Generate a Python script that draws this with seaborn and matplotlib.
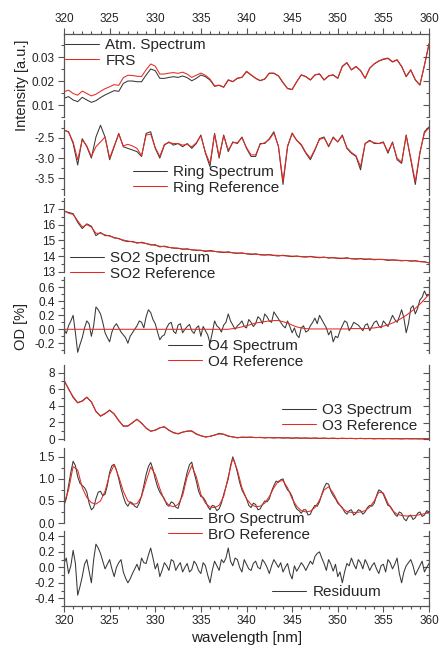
import numpy as np
import matplotlib
matplotlib.use("Agg")
import matplotlib.pyplot as plt
from matplotlib.ticker import MultipleLocator, FormatStrFormatter
import seaborn as sns

wavelength = np.linspace(320, 360, 81)        # 0.5 nm steps
wavelength_fine = np.linspace(320, 360, 161)  # 0.25 nm steps for the noisy traces

atm_spectrum = [
    0.0128, 0.0135, 0.0121, 0.0114, 0.0132, 0.0121, 0.0111, 0.0118, 0.0131, 0.0142,
    0.0151, 0.0160, 0.0157, 0.0190, 0.0200, 0.0200, 0.0197, 0.0197, 0.0225, 0.0250,
    0.0243, 0.0211, 0.0211, 0.0215, 0.0218, 0.0215, 0.0221, 0.0214, 0.0201, 0.0211,
    0.0225, 0.0218, 0.0204, 0.0178, 0.0182, 0.0174, 0.0204, 0.0197, 0.0211, 0.0215,
    0.0239, 0.0225, 0.0211, 0.0201, 0.0208, 0.0232, 0.0232, 0.0221, 0.0193, 0.0169,
    0.0165, 0.0197, 0.0225, 0.0218, 0.0204, 0.0225, 0.0229, 0.0204, 0.0221, 0.0225,
    0.0211, 0.0260, 0.0276, 0.0246, 0.0260, 0.0243, 0.0211, 0.0253, 0.0271, 0.0283,
    0.0290, 0.0294, 0.0279, 0.0288, 0.0260, 0.0218, 0.0246, 0.0204, 0.0183, 0.0265,
    0.0354]
frs = [
    0.0155, 0.0162, 0.0148, 0.0141, 0.0158, 0.0148, 0.0138, 0.0145, 0.0157, 0.0168,
    0.0176, 0.0185, 0.0182, 0.0214, 0.0224, 0.0223, 0.0220, 0.0219, 0.0247, 0.0271,
    0.0262, 0.0229, 0.0229, 0.0233, 0.0235, 0.0232, 0.0237, 0.0229, 0.0215, 0.0224,
    0.0233, 0.0224, 0.0208, 0.0180, 0.0183, 0.0175, 0.0205, 0.0198, 0.0212, 0.0216,
    0.0241, 0.0226, 0.0212, 0.0202, 0.0209, 0.0233, 0.0233, 0.0222, 0.0194, 0.0168,
    0.0164, 0.0197, 0.0226, 0.0219, 0.0205, 0.0226, 0.0230, 0.0205, 0.0222, 0.0226,
    0.0212, 0.0262, 0.0277, 0.0247, 0.0261, 0.0244, 0.0212, 0.0254, 0.0272, 0.0284,
    0.0292, 0.0296, 0.0281, 0.0289, 0.0262, 0.0220, 0.0247, 0.0206, 0.0184, 0.0266,
    0.0356]

ring_spectrum = [
    -2.31, -2.35, -2.64, -3.17, -2.52, -2.72, -3.00, -2.48, -2.19, -2.48,
    -3.04, -2.72, -2.39, -2.72, -2.76, -2.80, -2.84, -2.96, -2.39, -2.35,
    -2.76, -3.00, -2.68, -2.60, -2.68, -2.64, -2.72, -2.64, -2.76, -2.64,
    -2.43, -2.88, -3.21, -2.39, -3.00, -2.43, -2.84, -2.60, -2.64, -2.48,
    -2.76, -2.96, -2.96, -2.64, -2.64, -2.52, -2.35, -2.72, -3.65, -2.72,
    -2.38, -2.56, -2.68, -2.88, -3.04, -2.80, -2.52, -2.48, -2.72, -2.48,
    -2.60, -2.43, -2.76, -2.88, -2.96, -3.29, -2.64, -2.56, -2.64, -2.64,
    -2.60, -2.88, -2.60, -3.04, -3.13, -2.43, -3.04, -3.65, -2.88, -2.35,
    -2.23]
ring_reference = [
    -2.31, -2.36, -2.60, -3.04, -2.55, -2.70, -2.96, -2.72, -2.60, -2.48,
    -3.00, -2.70, -2.41, -2.70, -2.66, -2.70, -2.76, -2.94, -2.43, -2.41,
    -2.74, -2.96, -2.66, -2.62, -2.64, -2.64, -2.68, -2.66, -2.72, -2.62,
    -2.45, -2.86, -3.13, -2.41, -2.96, -2.45, -2.80, -2.62, -2.62, -2.50,
    -2.74, -2.92, -2.92, -2.66, -2.62, -2.54, -2.38, -2.70, -3.57, -2.70,
    -2.40, -2.56, -2.66, -2.86, -3.00, -2.78, -2.54, -2.50, -2.70, -2.50,
    -2.60, -2.45, -2.74, -2.86, -2.94, -3.21, -2.64, -2.58, -2.62, -2.64,
    -2.62, -2.84, -2.62, -3.00, -3.10, -2.45, -3.00, -3.58, -2.86, -2.38,
    -2.25]

so2_spectrum = [
    16.85, 16.78, 16.70, 16.15, 15.75, 16.05, 15.90, 15.30, 15.50, 15.30,
    15.30, 15.15, 15.12, 14.98, 14.92, 14.93, 14.82, 14.88, 14.80, 14.70,
    14.72, 14.58, 14.63, 14.55, 14.50, 14.49, 14.43, 14.46, 14.39, 14.36,
    14.37, 14.29, 14.35, 14.30, 14.25, 14.22, 14.27, 14.20, 14.17, 14.20,
    14.14, 14.10, 14.14, 14.07, 14.06, 14.09, 14.03, 14.00, 14.05, 14.00,
    13.96, 14.00, 13.95, 13.93, 13.98, 13.92, 13.89, 13.93, 13.87, 13.90,
    13.85, 13.84, 13.89, 13.82, 13.80, 13.84, 13.78, 13.81, 13.76, 13.79,
    13.78, 13.72, 13.75, 13.73, 13.69, 13.72, 13.67, 13.70, 13.64, 13.63,
    13.56]
so2_reference = [
    16.90, 16.73, 16.65, 16.25, 15.85, 16.00, 15.85, 15.45, 15.45, 15.35,
    15.27, 15.18, 15.10, 15.02, 14.96, 14.90, 14.86, 14.84, 14.79, 14.74,
    14.68, 14.62, 14.60, 14.55, 14.52, 14.50, 14.45, 14.43, 14.40, 14.38,
    14.35, 14.33, 14.31, 14.29, 14.27, 14.25, 14.23, 14.21, 14.19, 14.17,
    14.15, 14.13, 14.11, 14.10, 14.08, 14.07, 14.05, 14.04, 14.02, 14.01,
    13.99, 13.98, 13.97, 13.96, 13.95, 13.93, 13.92, 13.91, 13.90, 13.88,
    13.87, 13.86, 13.85, 13.84, 13.83, 13.82, 13.81, 13.80, 13.79, 13.78,
    13.77, 13.76, 13.74, 13.73, 13.72, 13.71, 13.70, 13.68, 13.65, 13.62,
    13.57]

# fine grid
o4_spectrum = [
    0.00, -0.06, 0.05, 0.12, 0.20, -0.05, -0.33, -0.22, -0.12, 0.02,
    0.12, 0.08, -0.10, 0.05, 0.32, 0.28, 0.22, 0.10, -0.05, -0.12,
    -0.18, -0.04, 0.04, 0.08, 0.02, -0.04, -0.08, -0.12, -0.20, -0.10,
    -0.05, 0.00, 0.05, 0.12, 0.10, 0.02, 0.18, 0.28, 0.24, 0.14,
    0.08, -0.04, -0.15, -0.10, -0.08, 0.02, 0.08, 0.10, -0.03, -0.06,
    0.06, 0.08, -0.05, 0.00, 0.04, 0.07, -0.02, -0.06, 0.02, 0.05,
    -0.10, 0.04, -0.02, -0.08, -0.20, -0.05, 0.12, 0.05, 0.02, -0.04,
    0.06, 0.10, 0.22, 0.12, 0.06, 0.00, 0.05, 0.08, 0.12, 0.04,
    0.02, 0.14, 0.10, 0.04, 0.08, 0.18, 0.15, 0.08, 0.22, 0.18,
    0.12, 0.10, 0.25, 0.20, 0.15, 0.10, 0.05, 0.02, 0.12, 0.04,
    -0.05, 0.02, -0.08, -0.12, 0.02, 0.05, -0.04, -0.02, 0.05, 0.10,
    0.16, 0.08, 0.20, 0.14, 0.08, 0.02, -0.08, -0.02, -0.18, -0.10,
    -0.12, -0.02, 0.05, 0.12, 0.10, -0.02, 0.03, 0.10, 0.08, 0.06,
    0.02, -0.02, 0.06, 0.08, -0.02, 0.04, 0.10, 0.12, 0.05, 0.02,
    0.12, 0.08, 0.04, 0.12, 0.20, 0.14, 0.10, 0.18, 0.28, 0.16,
    -0.05, 0.08, 0.30, 0.34, 0.22, 0.30, 0.42, 0.46, 0.55, 0.48,
    0.50]
o4_reference = [
    0.0, 0.0, 0.0, 0.0, 0.0, 0.0, 0.0, 0.0, 0.0, 0.0,
    0.0, 0.0, 0.0, 0.0, 0.0, 0.0, 0.0, 0.0, 0.0, 0.0,
    0.0, 0.0, 0.0, 0.0, 0.0, 0.0, 0.0, 0.0, 0.0, 0.0,
    0.0, 0.0, 0.0, 0.0, 0.0, 0.0, 0.0, 0.01, 0.02, 0.035,
    0.05, 0.07, 0.09, 0.10, 0.11, 0.12, 0.125, 0.125, 0.11, 0.09,
    0.06, 0.035, 0.02, 0.01, 0.005, 0.005, 0.005, 0.005, 0.005, 0.005,
    0.005, 0.005, 0.005, 0.01, 0.01, 0.01, 0.01, 0.015, 0.02, 0.03,
    0.045, 0.065, 0.09, 0.12, 0.16, 0.20, 0.25, 0.30, 0.36, 0.43,
    0.50]

o3_spectrum = [
    7.05, 6.05, 5.00, 4.35, 4.60, 5.05, 4.45, 3.35, 2.75, 3.05,
    3.50, 3.00, 2.25, 1.55, 1.60, 1.95, 2.40, 1.90, 1.35, 0.95,
    1.10, 1.35, 1.50, 1.05, 0.80, 0.62, 0.85, 0.95, 1.00, 0.60,
    0.42, 0.25, 0.35, 0.48, 0.70, 0.58, 0.35, 0.28, 0.15, 0.25,
    0.20, 0.25, 0.18, 0.22, 0.15, 0.20, 0.14, 0.19, 0.13, 0.17,
    0.11, 0.16, 0.10, 0.15, 0.09, 0.14, 0.08, 0.13, 0.07, 0.12,
    0.06, 0.11, 0.07, 0.10, 0.05, 0.10, 0.06, 0.09, 0.04, 0.08,
    0.05, 0.08, 0.04, 0.07, 0.03, 0.07, 0.04, 0.06, 0.03, 0.05,
    0.04]
o3_reference = [
    7.10, 6.00, 5.10, 4.40, 4.55, 5.00, 4.50, 3.30, 2.80, 3.10,
    3.44, 3.05, 2.20, 1.60, 1.55, 2.00, 2.37, 1.95, 1.30, 0.97,
    1.05, 1.38, 1.45, 1.10, 0.75, 0.68, 0.82, 0.98, 0.95, 0.65,
    0.40, 0.29, 0.32, 0.50, 0.62, 0.60, 0.40, 0.25, 0.20, 0.22,
    0.24, 0.22, 0.20, 0.19, 0.18, 0.18, 0.17, 0.17, 0.16, 0.15,
    0.14, 0.14, 0.13, 0.13, 0.12, 0.12, 0.11, 0.11, 0.10, 0.10,
    0.09, 0.09, 0.09, 0.08, 0.08, 0.08, 0.07, 0.07, 0.07, 0.06,
    0.06, 0.06, 0.06, 0.05, 0.05, 0.05, 0.05, 0.04, 0.04, 0.04,
    0.04]

# fine grid
bro_spectrum = [
    0.40, 0.55, 0.85, 1.15, 1.40, 1.30, 1.05, 0.90, 0.85, 0.80,
    0.70, 0.45, 0.30, 0.35, 0.55, 0.70, 0.72, 0.62, 0.65, 0.85,
    1.15, 1.30, 1.33, 1.20, 1.00, 0.78, 0.60, 0.45, 0.38, 0.48,
    0.45, 0.38, 0.35, 0.45, 0.62, 0.85, 1.10, 1.28, 1.37, 1.22,
    1.00, 0.82, 0.70, 0.62, 0.55, 0.42, 0.38, 0.48, 0.45, 0.36,
    0.33, 0.50, 0.70, 0.92, 1.15, 1.32, 1.38, 1.15, 0.95, 0.72,
    0.60, 0.58, 0.50, 0.38, 0.30, 0.40, 0.38, 0.28, 0.32, 0.45,
    0.65, 0.82, 1.00, 1.30, 1.50, 1.35, 1.15, 0.92, 0.75, 0.65,
    0.55, 0.40, 0.35, 0.45, 0.42, 0.30, 0.32, 0.42, 0.50, 0.48,
    0.55, 0.72, 0.85, 0.95, 0.92, 0.98, 1.00, 0.85, 0.75, 0.70,
    0.60, 0.42, 0.32, 0.28, 0.22, 0.30, 0.30, 0.18, 0.20, 0.32,
    0.40, 0.38, 0.48, 0.65, 0.80, 0.90, 0.88, 0.72, 0.62, 0.55,
    0.45, 0.40, 0.35, 0.25, 0.20, 0.28, 0.30, 0.18, 0.22, 0.30,
    0.28, 0.20, 0.25, 0.35, 0.40, 0.38, 0.45, 0.62, 0.75, 0.72,
    0.65, 0.52, 0.40, 0.38, 0.30, 0.20, 0.15, 0.25, 0.22, 0.10,
    0.05, 0.15, 0.18, 0.08, 0.12, 0.22, 0.25, 0.15, 0.18, 0.28,
    0.25]
bro_reference = [
    0.45, 0.75, 1.28, 1.20, 0.80, 0.58, 0.46, 0.43, 0.50, 0.72,
    1.10, 1.32, 1.05, 0.72, 0.50, 0.42, 0.44, 0.60, 0.95, 1.27,
    1.10, 0.78, 0.52, 0.40, 0.37, 0.42, 0.62, 1.05, 1.30, 1.05,
    0.65, 0.45, 0.36, 0.35, 0.40, 0.60, 1.05, 1.47, 1.20, 0.80,
    0.55, 0.42, 0.37, 0.38, 0.45, 0.60, 0.80, 0.95, 0.96, 0.80,
    0.55, 0.38, 0.28, 0.25, 0.27, 0.35, 0.52, 0.75, 0.82, 0.68,
    0.48, 0.33, 0.26, 0.24, 0.24, 0.25, 0.28, 0.36, 0.50, 0.70,
    0.68, 0.45, 0.28, 0.20, 0.17, 0.16, 0.16, 0.17, 0.19, 0.21,
    0.23]

# fine grid
residuum = [
    0.05, 0.12, -0.08, 0.02, 0.22, 0.05, -0.36, -0.25, -0.12, 0.04,
    0.10, -0.05, -0.20, 0.10, 0.30, 0.25, 0.18, 0.08, -0.02, 0.04,
    0.10, -0.02, -0.12, 0.00, 0.06, 0.10, -0.06, -0.14, -0.20, -0.15,
    -0.08, -0.02, 0.04, -0.04, 0.12, 0.06, 0.05, 0.16, 0.25, 0.12,
    -0.02, 0.05, -0.12, -0.04, 0.06, 0.02, -0.04, 0.10, 0.08, -0.04,
    0.02, 0.06, -0.06, 0.00, 0.05, -0.06, -0.03, 0.08, 0.04, -0.04,
    -0.08, 0.06, 0.02, -0.10, -0.20, -0.04, 0.08, 0.02, -0.04, 0.10,
    0.06, 0.12, 0.25, 0.08, 0.02, 0.12, 0.10, 0.00, -0.06, 0.10,
    0.04, -0.02, -0.04, 0.05, 0.08, 0.00, -0.02, 0.10, 0.06, 0.00,
    -0.08, 0.02, 0.10, 0.05, 0.00, 0.06, -0.06, 0.00, 0.05, -0.08,
    -0.15, 0.02, -0.05, 0.00, 0.06, 0.02, -0.04, 0.02, 0.08, 0.04,
    0.14, 0.18, 0.20, 0.12, 0.05, -0.04, 0.10, 0.04, -0.05, 0.04,
    -0.12, -0.06, -0.20, -0.06, 0.05, 0.02, 0.12, 0.04, -0.02, 0.10,
    0.06, -0.02, 0.10, 0.04, -0.04, 0.02, 0.06, -0.02, -0.08, 0.02,
    0.04, -0.06, 0.10, 0.06, -0.02, 0.04, 0.12, -0.08, -0.20, -0.06,
    0.02, 0.06, 0.10, 0.02, -0.10, -0.04, 0.02, 0.08, -0.06, 0.00,
    0.05]

sns.set_theme(style="ticks")
plt.rcParams["font.family"] = ["Liberation Sans", "DejaVu Sans"]
plt.rcParams["axes.unicode_minus"] = False

SPEC = "#383838"
REF = "#e62a22"
FRAME = "#555555"
TXT = "#222222"

W, H = 441, 648
fig = plt.figure(figsize=(W / 100, H / 100), dpi=100)

# panel layout in pixels: top, bottom, y-limits, major/minor step, tick format,
# curves (x, y, label, colour), legend anchor (left x, top y)
panels = [
    dict(top=34, bottom=117, ylim=(0.005, 0.0396), major=0.01, minor=0.005, fmt="%.2f",
         curves=[(wavelength, atm_spectrum, "Atm. Spectrum", SPEC),
                 (wavelength, frs, "FRS", REF)], leg=(65, 38)),
    dict(top=120, bottom=195, ylim=(-3.91, -2.06), major=0.5, minor=0.25, fmt="%.1f",
         curves=[(wavelength, ring_spectrum, "Ring Spectrum", SPEC),
                 (wavelength, ring_reference, "Ring Reference", REF)], leg=(133, 165)),
    dict(top=198, bottom=272, ylim=(12.98, 17.7), major=1, minor=0.5, fmt="%d",
         curves=[(wavelength, so2_spectrum, "SO2 Spectrum", SPEC),
                 (wavelength, so2_reference, "SO2 Reference", REF)], leg=(70, 251)),
    dict(top=277, bottom=353, ylim=(-0.34, 0.75), major=0.2, minor=0.1, fmt="%.1f",
         curves=[(wavelength_fine, o4_spectrum, "O4 Spectrum", SPEC),
                 (wavelength, o4_reference, "O4 Reference", REF)], leg=(168, 339)),
    dict(top=365, bottom=440, ylim=(-0.1, 8.9), major=2, minor=1, fmt="%d",
         curves=[(wavelength, o3_spectrum, "O3 Spectrum", SPEC),
                 (wavelength, o3_reference, "O3 Reference", REF)], leg=(282, 403)),
    dict(top=448, bottom=523, ylim=(0.0, 1.7), major=0.5, minor=0.25, fmt="%.1f",
         curves=[(wavelength_fine, bro_spectrum, "BrO Spectrum", SPEC),
                 (wavelength, bro_reference, "BrO Reference", REF)], leg=(168, 512)),
    dict(top=531, bottom=606, ylim=(-0.5, 0.47), major=0.2, minor=0.1, fmt="%.1f",
         curves=[(wavelength_fine, residuum, "Residuum", SPEC)], leg=(272, 585)),
]

n = len(panels)
for i, p in enumerate(panels):
    ax = fig.add_axes([64 / W, 1 - p["bottom"] / H, 365 / W, (p["bottom"] - p["top"]) / H])
    ax.set_facecolor("none")
    for xs, vals, name, col in p["curves"]:
        sns.lineplot(x=xs, y=vals, ax=ax, color=col, linewidth=0.75, label=name)

    ax.set_xlim(320, 360)
    ax.set_ylim(*p["ylim"])
    ax.set_xlabel("")
    ax.set_ylabel("")
    ax.xaxis.set_major_locator(MultipleLocator(5))
    ax.xaxis.set_minor_locator(MultipleLocator(1))
    ax.yaxis.set_major_locator(MultipleLocator(p["major"]))
    ax.yaxis.set_minor_locator(MultipleLocator(p["minor"]))
    ax.yaxis.set_major_formatter(FormatStrFormatter(p["fmt"]))
    ax.xaxis.set_major_formatter(FormatStrFormatter("%d"))

    for side in ["left", "right", "top", "bottom"]:
        ax.spines[side].set_color(FRAME)
        ax.spines[side].set_linewidth(0.9)
    ax.spines["top"].set_visible(i == 0)
    ax.spines["bottom"].set_visible(i == n - 1)

    ax.tick_params(axis="both", which="both", colors=FRAME, labelcolor=TXT,
                   labelsize=8.5, direction="out", width=0.8, pad=2)
    ax.tick_params(which="major", length=4.5)
    ax.tick_params(which="minor", length=2.5)
    ax.tick_params(axis="x", which="both", top=(i == 0), labeltop=(i == 0),
                   bottom=(i == n - 1), labelbottom=(i == n - 1))
    ax.tick_params(axis="y", which="both", left=True, right=False)

    # inward ticks on the right frame
    sec = ax.secondary_yaxis("right")
    sec.yaxis.set_major_locator(MultipleLocator(p["major"]))
    sec.yaxis.set_minor_locator(MultipleLocator(p["minor"]))
    sec.tick_params(axis="y", which="both", direction="in", colors=FRAME,
                    labelright=False, width=0.8)
    sec.tick_params(which="major", length=4.5)
    sec.tick_params(which="minor", length=2.5)
    sec.spines["right"].set_visible(False)

    lx, ly = p["leg"]
    ax.legend(loc="upper left", bbox_to_anchor=(lx / W, 1 - ly / H),
              bbox_transform=fig.transFigure, frameon=False, fontsize=11,
              handlelength=2.2, handletextpad=0.45, labelspacing=0.12,
              borderpad=0, borderaxespad=0)
    if i == n - 1:
        ax.set_xlabel("wavelength [nm]", fontsize=11, color=TXT, labelpad=3)

fig.text(22 / W, 1 - 85 / H, "Intensity [a.u.]", rotation=90, ha="center", va="center",
         fontsize=10.5, color=TXT)
fig.text(21 / W, 1 - 326 / H, "OD [%]", rotation=90, ha="center", va="center",
         fontsize=10.5, color=TXT)

fig.savefig("out.png", dpi=100)
